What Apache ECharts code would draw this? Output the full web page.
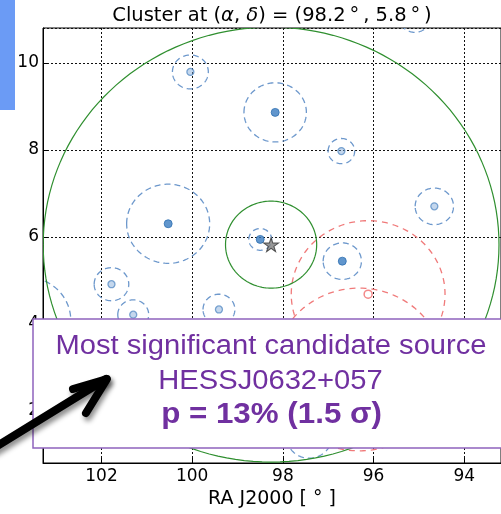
<!DOCTYPE html>
<html>
<head>
<meta charset="utf-8">
<script src="https://cdn.jsdelivr.net/npm/echarts@6/dist/echarts.min.js"></script>
<style>
  html, body { margin: 0; padding: 0; background: #ffffff; }
  #chart { width: 501px; height: 514px; }
</style>
</head>
<body>
<div id="chart"></div>
<script>
// Cluster centre (RA, Dec in degrees) and the two search radii around it
const centerRA = 98.26;
const centerDec = 5.82;
const clusterRadii = [5.0, 1.0];

// Catalogue sources: position, extension radius (deg) and whether the source is significant
const srcRA     = [100.04, 98.17, 96.71, 94.66, 95.09, 100.53, 98.50, 96.69, 101.78, 101.30, 99.41, 103.68, 97.42];
const srcDec    = [9.79,   8.86,  7.97,  6.70,  11.03, 6.30,   5.94,  5.44,  4.91,   4.21,   4.33,  4.08,   1.41];
const srcRadius = [0.39,   0.68,  0.29,  0.42,  0.33,  0.91,   0.25,  0.42,  0.38,   0.34,   0.35,  1.00,   0.50];
const srcStrong = [false,  true,  false, false, false, true,   true,  true,  false,  false,  false, false,  false];

// Candidate source positions and extension radii (red)
const candRA     = [96.12, 96.32];
const candDec    = [4.68, 2.95];
const candRadius = [1.69, 1.87];

// Axis ranges and tick values
const raMin = 93.19, raMax = 103.29;
const decMin = 0.8, decMax = 10.8;
const raTicks = [94, 96, 98, 100, 102];
const decTicks = [2, 4, 6, 8, 10];

const chart = echarts.init(document.getElementById('chart'), null, { renderer: 'canvas' });

// Closed ring of points on the sky, projected through the cartesian axes
function ringPoints(api, ra, dec, r) {
  const pts = [];
  const rx = r / Math.cos(dec * Math.PI / 180);
  const n = 160;
  for (let k = 0; k <= n; k++) {
    const t = 2 * Math.PI * k / n;
    pts.push(api.coord([ra + rx * Math.cos(t), dec + r * Math.sin(t)]));
  }
  return pts;
}

function ringSeries(data, stroke, width, dash, z) {
  return {
    type: 'custom',
    clip: true,
    silent: true,
    z: z,
    encode: { x: 0, y: 1 },
    data: data,
    renderItem: function (params, api) {
      return {
        type: 'polyline',
        shape: { points: ringPoints(api, api.value(0), api.value(1), api.value(2)) },
        style: { fill: 'none', stroke: stroke, lineWidth: width, lineDash: dash }
      };
    }
  };
}

const srcRings = srcRA.map((ra, i) => [ra, srcDec[i], srcRadius[i]]);
const candRings = candRA.map((ra, i) => [ra, candDec[i], candRadius[i]]);
const clusterRings = clusterRadii.map(r => [centerRA, centerDec, r]);
const strongPts = srcRA.map((ra, i) => [ra, srcDec[i]]).filter((p, i) => srcStrong[i]);
const faintPts = srcRA.map((ra, i) => [ra, srcDec[i]]).filter((p, i) => !srcStrong[i]);

const axisFont = { fontFamily: 'DejaVu Sans', fontSize: 17, color: '#000' };
const gridLine = { show: true, lineStyle: { color: '#111', width: 1, type: [2, 2] } };

const starPath = 'path://M50,0 L61,35 L98,35 L68,57 L79,91 L50,70 L21,91 L32,57 L2,35 L39,35 Z';

const boxText = { fontFamily: 'Liberation Sans', fill: '#7030a0', align: 'center', verticalAlign: 'middle' };

chart.setOption({
  animation: false,
  backgroundColor: '#ffffff',
  grid: {
    left: 43, top: 28, right: -1, bottom: 48,
    show: true, borderColor: '#000', borderWidth: 1, backgroundColor: 'transparent'
  },
  xAxis: {
    type: 'value', min: raMin, max: raMax, inverse: true, splitNumber: 5,
    name: 'RA J2000 [ ° ]', nameLocation: 'middle', nameGap: 27,
    nameTextStyle: { fontFamily: 'DejaVu Sans', fontSize: 19, color: '#000' },
    axisLine: { show: true, onZero: false, lineStyle: { color: '#000', width: 1 } },
    axisTick: { show: true, inside: true, length: 5, lineStyle: { color: '#000' } },
    axisLabel: Object.assign({ margin: 5, showMinLabel: false, showMaxLabel: false,
      formatter: v => raTicks.includes(v) ? String(v) : '' }, axisFont),
    splitLine: gridLine
  },
  yAxis: {
    type: 'value', min: decMin, max: decMax, splitNumber: 5,
    axisLine: { show: true, onZero: false, lineStyle: { color: '#000', width: 1 } },
    axisTick: { show: true, inside: true, length: 5, lineStyle: { color: '#000' } },
    axisLabel: Object.assign({ margin: 4, showMinLabel: false, showMaxLabel: false,
      formatter: v => decTicks.includes(v) ? String(v) : '' }, axisFont),
    splitLine: gridLine
  },
  series: [
    ringSeries(srcRings, '#6d98cc', 1.3, [6, 4], 2),
    ringSeries(candRings, '#f07a7a', 1.3, [6, 5], 2),
    ringSeries(clusterRings, '#2f8f2f', 1.2, null, 3),
    {
      type: 'scatter', z: 4, symbol: 'circle', symbolSize: 7, data: faintPts,
      itemStyle: { color: 'rgba(120,165,215,0.55)', borderColor: '#5b8fc6', borderWidth: 1.3 }
    },
    {
      type: 'scatter', z: 4, symbol: 'circle', symbolSize: 8, data: strongPts,
      itemStyle: { color: '#3a7cc0', borderColor: '#3070b2', borderWidth: 1 }
    },
    {
      type: 'scatter', z: 4, symbol: 'circle', symbolSize: 8,
      data: candRA.map((ra, i) => [ra, candDec[i]]),
      itemStyle: { color: 'rgba(255,255,255,0.3)', borderColor: '#f06c6c', borderWidth: 1.5 }
    },
    {
      type: 'scatter', z: 5, symbol: starPath, symbolSize: [15, 14],
      data: [[centerRA, centerDec]],
      itemStyle: { color: '#7d7d7d', borderColor: '#333', borderWidth: 1 }
    }
  ],
  graphic: {
    elements: [
      {
        type: 'text', x: 272, y: 16, z: 50,
        style: {
          text: '{n|Cluster at (}{i|α}{n|, }{i|δ}{n|) = (98.2\u2009°\u2009, 5.8\u2009°\u2009)}',
          align: 'center', verticalAlign: 'middle',
          rich: {
            n: { fontFamily: 'DejaVu Sans', fontSize: 19.5, fill: '#000' },
            i: { fontFamily: 'DejaVu Sans', fontStyle: 'italic', fontSize: 19.5, fill: '#000' }
          }
        }
      },
      {
        type: 'rect', z: 60, shape: { x: 0, y: 0, width: 15, height: 110 },
        style: { fill: '#6b9bf5' }
      },
      {
        type: 'rect', z: 100, shape: { x: 33, y: 319, width: 490, height: 129 },
        style: { fill: '#ffffff', stroke: '#8f63bd', lineWidth: 1.5 }
      },
      {
        type: 'text', z: 101, x: 271, y: 347, scaleX: 1.08,
        style: Object.assign({ text: 'Most significant candidate source', fontSize: 27 }, boxText)
      },
      {
        type: 'text', z: 101, x: 270.5, y: 382, scaleX: 1.08,
        style: Object.assign({ text: 'HESSJ0632+057', fontSize: 27 }, boxText)
      },
      {
        type: 'text', z: 101, x: 271.5, y: 415, scaleX: 1.08,
        style: Object.assign({ text: 'p = 13% (1.5 σ)', fontSize: 29, fontWeight: 'bold' }, boxText)
      },
      {
        type: 'group', z: 110,
        children: [
          {
            type: 'polyline', z: 110,
            shape: { points: [[-6, 448], [106, 379]] },
            style: { stroke: '#000', lineWidth: 8, lineCap: 'round', fill: 'none',
              shadowBlur: 5, shadowOffsetX: 2, shadowOffsetY: 4, shadowColor: 'rgba(0,0,0,0.45)' }
          },
          {
            type: 'polyline', z: 110,
            shape: { points: [[73, 389], [107, 379], [86, 413]] },
            style: { stroke: '#000', lineWidth: 8, lineCap: 'round', lineJoin: 'round', fill: 'none',
              shadowBlur: 5, shadowOffsetX: 2, shadowOffsetY: 4, shadowColor: 'rgba(0,0,0,0.45)' }
          }
        ]
      }
    ]
  }
});
</script>
</body>
</html>
